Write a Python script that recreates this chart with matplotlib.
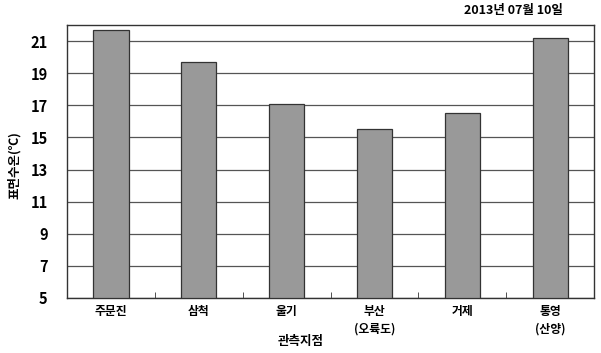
import numpy as np
import matplotlib
matplotlib.use("Agg")
import matplotlib.pyplot as plt

plt.rcParams['font.family'] = ['Noto Sans CJK KR', 'DejaVu Sans']

stations = ['주문진', '삼척', '울기', '부산\n(오륙도)', '거제', '통영\n(산양)']
temps = [21.7, 19.7, 17.1, 15.5, 16.5, 21.2]
yticks = [5, 7, 9, 11, 13, 15, 17, 19, 21]

fig = plt.figure(figsize=(6.01, 3.53), dpi=100)
ax = fig.add_axes([0.1115, 0.156, 0.877, 0.773])

x = np.arange(len(stations))
ax.bar(x, np.array(temps) - 5, bottom=5, width=0.4, color='#999999',
       edgecolor='#333333', linewidth=0.9, zorder=3)

ax.set_xlim(-0.5, len(stations) - 0.5)
ax.set_ylim(5, 22)
ax.set_yticks(yticks)
ax.set_yticklabels([str(v) for v in yticks], fontsize=10.5, fontweight='bold')
ax.tick_params(axis='y', length=0, pad=14)
ax.grid(axis='y', color='#555555', linewidth=0.9, zorder=0)

ax.set_xticks(x)
ax.set_xticklabels(stations, fontsize=8.5, fontweight='bold', linespacing=1.5)
ax.tick_params(axis='x', length=0, pad=5)
ax.set_xticks(x[:-1] + 0.5, minor=True)
ax.tick_params(axis='x', which='minor', direction='in', length=4, color='#333333')

for s in ax.spines.values():
    s.set_color('#333333')
    s.set_linewidth(1.0)

fig.text(0.5, 1 - 341 / 353, '관측지점', ha='center', va='center',
         fontsize=9, fontweight='bold')
fig.text(14 / 601, 1 - 165 / 353, '표면수온(℃)', ha='center', va='center',
         rotation=90, fontsize=9, fontweight='bold')
fig.text(0.937, 0.97, '2013년 07월 10일', ha='right', va='center',
         fontsize=9, fontweight='bold')

fig.savefig('out.png', dpi=100)
